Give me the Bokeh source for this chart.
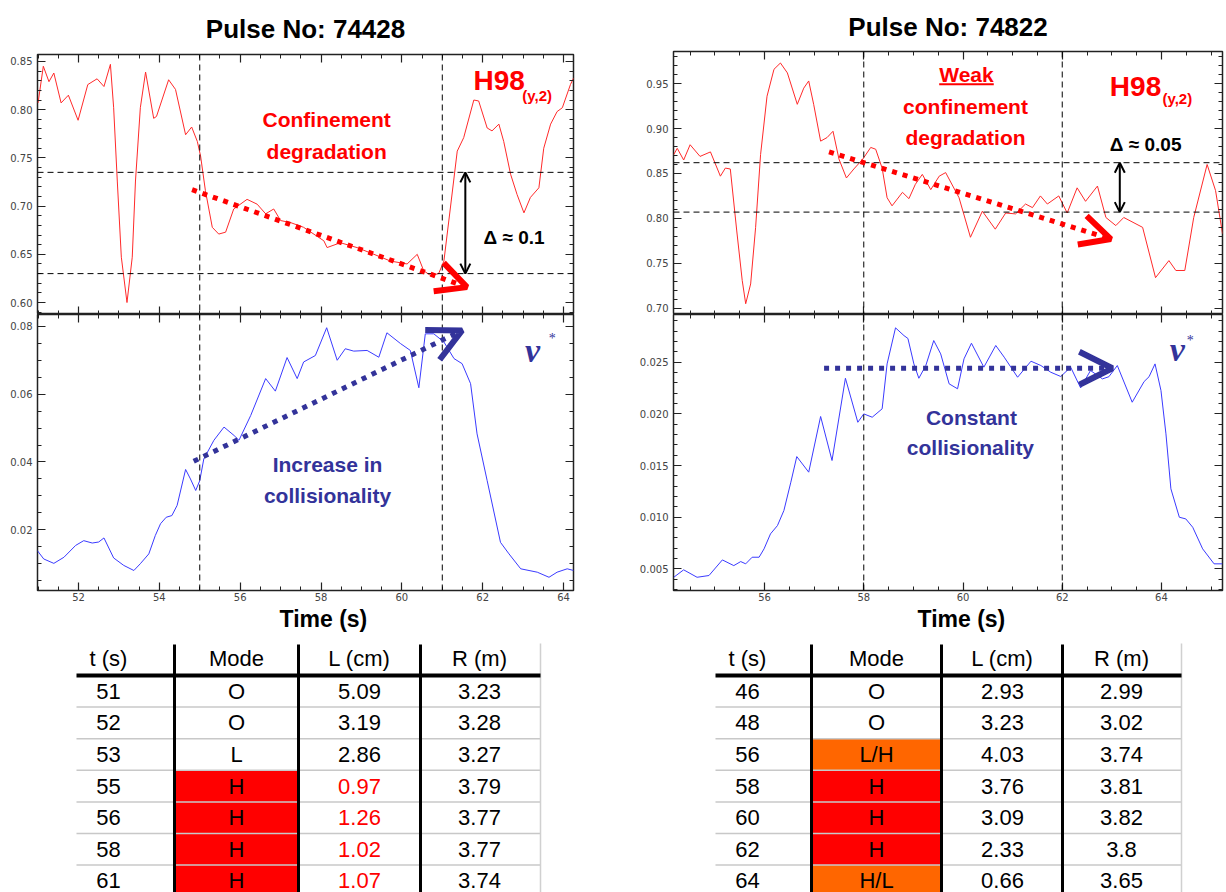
from bokeh.plotting import figure
from bokeh.models import (Range1d, LinearAxis, SingleIntervalTicker, PrintfTickFormatter,
                          Span, Arrow, OpenHead, Label, Title)
from bokeh.layouts import row, column
from bokeh.core.properties import value
from bokeh.embed import file_html
from bokeh.resources import INLINE

# ------------------------------------------------------------------ data
left_title = "Pulse No: 74428"
right_title = "Pulse No: 74822"
x_label = "Time (s)"

l_h98_t = [51.00, 51.13, 51.27, 51.39, 51.57, 51.75, 51.99, 52.23, 52.46, 52.63, 52.79, 52.87,
           52.96, 53.06, 53.20, 53.33, 53.41, 53.53, 53.66, 53.86, 53.93, 54.23, 54.40, 54.65,
           54.80, 54.94, 55.02, 55.14, 55.31, 55.47, 55.64, 55.84, 56.17, 56.42, 56.63, 56.83,
           57.00, 57.24, 57.57, 58.07, 58.15, 58.48, 58.89, 59.31, 59.72, 60.13, 60.38, 60.54,
           60.71, 60.91, 61.04, 61.20, 61.37, 61.53, 61.78, 61.90, 62.11, 62.23, 62.40, 62.52,
           62.69, 62.85, 63.02, 63.18, 63.39, 63.51, 63.68, 63.84, 63.97, 64.17, 64.25]
l_h98 = [0.807, 0.845, 0.829, 0.838, 0.807, 0.815, 0.789, 0.826, 0.832, 0.824, 0.847, 0.802,
         0.726, 0.647, 0.600, 0.647, 0.726, 0.802, 0.839, 0.791, 0.793, 0.831, 0.821, 0.774,
         0.782, 0.767, 0.752, 0.716, 0.678, 0.671, 0.673, 0.697, 0.707, 0.702, 0.692, 0.697,
         0.685, 0.683, 0.678, 0.664, 0.657, 0.662, 0.657, 0.650, 0.643, 0.640, 0.650, 0.633,
         0.628, 0.630, 0.643, 0.698, 0.757, 0.771, 0.810, 0.809, 0.781, 0.778, 0.785, 0.767,
         0.733, 0.712, 0.693, 0.709, 0.719, 0.760, 0.785, 0.798, 0.802, 0.826, 0.833]

l_nu_t = [50.98, 51.14, 51.39, 51.64, 51.93, 52.13, 52.34, 52.50, 52.63, 52.87, 53.12, 53.37,
          53.53, 53.74, 53.90, 54.03, 54.17, 54.31, 54.44, 54.65, 54.77, 54.90, 55.00, 55.10,
          55.35, 55.60, 55.85, 55.97, 56.26, 56.63, 56.87, 57.16, 57.41, 57.57, 57.86, 58.14,
          58.40, 58.60, 58.81, 59.14, 59.43, 59.63, 59.97, 60.21, 60.42, 60.58, 60.79, 61.04,
          61.29, 61.49, 61.70, 61.86, 62.11, 62.44, 62.65, 62.94, 63.35, 63.64, 63.84, 64.09,
          64.25]
l_nu = [0.0139, 0.0114, 0.0101, 0.0119, 0.0154, 0.0168, 0.0161, 0.0164, 0.0176, 0.0117, 0.0095,
        0.0080, 0.0100, 0.0129, 0.0183, 0.0218, 0.0237, 0.0242, 0.0272, 0.0378, 0.0350, 0.0316,
        0.0345, 0.0409, 0.0464, 0.0503, 0.0478, 0.0464, 0.0537, 0.0646, 0.0609, 0.0708, 0.0646,
        0.0695, 0.0714, 0.0796, 0.0700, 0.0734, 0.0727, 0.0729, 0.0709, 0.0781, 0.0749, 0.0729,
        0.0619, 0.0778, 0.0778, 0.0754, 0.0705, 0.0690, 0.0631, 0.0483, 0.0345, 0.0163, 0.0129,
        0.0085, 0.0075, 0.0060, 0.0075, 0.0085, 0.0080]

r_h98_t = [54.17, 54.24, 54.37, 54.50, 54.70, 54.91, 55.11, 55.21, 55.31, 55.44, 55.55, 55.62,
           55.72, 55.82, 55.92, 56.05, 56.19, 56.32, 56.46, 56.66, 56.79, 56.89, 56.99, 57.13,
           57.26, 57.38, 57.50, 57.65, 57.80, 57.98, 58.14, 58.24, 58.37, 58.47, 58.57, 58.78,
           58.91, 59.04, 59.18, 59.35, 59.52, 59.65, 59.92, 60.15, 60.39, 60.65, 60.86, 61.06,
           61.26, 61.40, 61.56, 61.70, 61.93, 62.10, 62.30, 62.47, 62.71, 62.88, 63.08, 63.24,
           63.62, 63.88, 64.15, 64.29, 64.47, 64.65, 64.92, 65.09, 65.23]
r_h98 = [0.871, 0.878, 0.865, 0.882, 0.869, 0.874, 0.847, 0.856, 0.855, 0.786, 0.731, 0.705,
         0.727, 0.790, 0.871, 0.936, 0.966, 0.973, 0.962, 0.927, 0.945, 0.953, 0.927, 0.886,
         0.890, 0.897, 0.866, 0.845, 0.855, 0.866, 0.879, 0.877, 0.856, 0.823, 0.814, 0.829,
         0.822, 0.838, 0.849, 0.832, 0.847, 0.851, 0.823, 0.779, 0.808, 0.788, 0.806, 0.805,
         0.816, 0.812, 0.825, 0.816, 0.825, 0.806, 0.834, 0.819, 0.836, 0.801, 0.792, 0.801,
         0.790, 0.734, 0.753, 0.742, 0.742, 0.801, 0.860, 0.831, 0.783]

r_nu_t = [54.17, 54.37, 54.64, 54.88, 55.15, 55.38, 55.52, 55.62, 55.75, 55.89, 55.99, 56.12,
          56.26, 56.39, 56.53, 56.65, 56.89, 57.13, 57.36, 57.63, 57.88, 58.00, 58.17, 58.37,
          58.47, 58.64, 58.81, 58.89, 59.01, 59.11, 59.25, 59.41, 59.55, 59.72, 59.89, 60.02,
          60.17, 60.42, 60.66, 60.83, 61.10, 61.37, 61.57, 61.77, 61.97, 62.17, 62.37, 62.57,
          62.81, 62.94, 63.11, 63.41, 63.65, 63.75, 63.87, 63.99, 64.09, 64.19, 64.36, 64.49,
          64.63, 64.83, 65.06, 65.23]
r_nu = [0.00419, 0.00491, 0.00419, 0.00436, 0.00587, 0.00532, 0.00571, 0.00549, 0.00613, 0.00613,
        0.00694, 0.00839, 0.00919, 0.01065, 0.01339, 0.01587, 0.01436, 0.01975, 0.01549, 0.02345,
        0.01919, 0.02000, 0.01968, 0.02049, 0.02484, 0.02833, 0.02758, 0.02730, 0.02484, 0.02345,
        0.02468, 0.02710, 0.02581, 0.02291, 0.02243, 0.02533, 0.02684, 0.02452, 0.02662, 0.02549,
        0.02355, 0.02510, 0.02468, 0.02403, 0.02362, 0.02452, 0.02252, 0.02420, 0.02339, 0.02360,
        0.02468, 0.02113, 0.02313, 0.02360, 0.02484, 0.02226, 0.01807, 0.01275, 0.01000, 0.00984,
        0.00903, 0.00694, 0.00549, 0.00549]

# marked times and H98 reference levels
l_vlines = [55, 61]
l_hlines = [0.735, 0.63]
r_vlines = [58, 62]
r_hlines = [0.862, 0.807]

table_header = ["t (s)", "Mode", "L (cm)", "R (m)"]
lt_t = ["51", "52", "53", "55", "56", "58", "61"]
lt_mode = ["O", "O", "L", "H", "H", "H", "H"]
lt_L = ["5.09", "3.19", "2.86", "0.97", "1.26", "1.02", "1.07"]
lt_R = ["3.23", "3.28", "3.27", "3.79", "3.77", "3.77", "3.74"]

rt_t = ["46", "48", "56", "58", "60", "62", "64"]
rt_mode = ["O", "O", "L/H", "H", "H", "H", "H/L"]
rt_L = ["2.93", "3.23", "4.03", "3.76", "3.09", "2.33", "0.66"]
rt_R = ["2.99", "3.02", "3.74", "3.81", "3.82", "3.8", "3.65"]

# ------------------------------------------------------------------ styles
RED_LINE = "#FF2A2A"
BLUE_LINE = "#3A3AFF"
RED_TXT = "#FF0000"
NAVY = "#33339A"
ORANGE = "#FF6600"
FONT = "Liberation Sans"
MODE_FILL = {"H": "#FF0000", "L/H": ORANGE, "H/L": ORANGE}

TOP_H = 314      # page y 0 -> 314
BOT_H = 321      # page y 314 -> 635
TAB_H = 257      # page y 635 -> 892
LW = 600
RW = 626
L_BORDERS = (37, 27)
R_BORDERS = (73, 4)


def panel(w, h, xr, yr, borders, bt, bb):
    p = figure(width=w, height=h, x_range=xr, y_range=yr, output_backend="svg",
               toolbar_location=None, x_axis_location=None, y_axis_location=None,
               min_border_left=borders[0], min_border_right=borders[1], min_border_top=bt,
               min_border_bottom=bb, background_fill_color="white",
               border_fill_color="white")
    p.grid.grid_line_color = None
    p.outline_line_color = "#222222"
    p.outline_line_width = 1.5
    return p


def axis(ticker, fixed, labels, fmt="%.2f"):
    a = LinearAxis(ticker=ticker, major_tick_in=8, major_tick_out=0,
                   minor_tick_in=4, minor_tick_out=0, axis_line_color=None,
                   major_tick_line_color="#222222", minor_tick_line_color="#222222",
                   major_tick_line_width=1.2, minor_tick_line_width=1,
                   major_label_text_font="DejaVu Sans", major_label_text_font_size="10px",
                   major_label_text_color="#444444" if labels else None,
                   major_label_standoff=5,
                   formatter=PrintfTickFormatter(format=fmt))
    if fixed is not None:
        a.fixed_location = fixed
    return a


def set_title(p, text, standoff):
    p.title.text = text
    p.title.align = "center"
    p.title.text_font = FONT
    p.title.text_font_size = "26px"
    p.title.text_font_style = "bold"
    p.title.text_color = "black"
    p.title.standoff = standoff


def decorate(p, xr, yr, xint, xminor, yint, yminor, yfmt, xlabels, axis_label=None,
             label_offset=0):
    p.add_layout(axis(SingleIntervalTicker(interval=yint, num_minor_ticks=yminor), None,
                      True, yfmt), "left")
    p.add_layout(axis(SingleIntervalTicker(interval=yint, num_minor_ticks=yminor), xr.end,
                      False, yfmt), "right")
    p.add_layout(axis(SingleIntervalTicker(interval=xint, num_minor_ticks=xminor), yr.end,
                      False, "%d"), "above")
    b = axis(SingleIntervalTicker(interval=xint, num_minor_ticks=xminor),
             None if xlabels else yr.start, xlabels, "%d")
    b.major_label_standoff = 2
    p.add_layout(b, "below")
    if axis_label:
        p.add_layout(Title(text=axis_label, align="left", offset=label_offset, standoff=0,
                           text_font=FONT, text_font_size="23px", text_font_style="bold",
                           text_color="black"), "below")


def vlines(p, locs):
    for v in locs:
        p.add_layout(Span(location=v, dimension="height", line_color="black",
                          line_width=1, line_dash="6 4"))


def hlines(p, locs):
    for v in locs:
        p.add_layout(Span(location=v, dimension="width", line_color="black",
                          line_width=1, line_dash="6 4"))


def txt(p, x, y, s, color, size="21px", align="center", style="bold", font=FONT):
    p.add_layout(Label(x=x, y=y, text=s, text_color=color, text_font=font,
                       text_font_size=size, text_font_style=style, text_align=align,
                       text_baseline="middle"))


def dotted_arrow(p, x0, y0, x1, y1, color, size):
    p.add_layout(Arrow(end=OpenHead(line_color=color, line_width=6, size=size),
                       x_start=x0, y_start=y0, x_end=x1, y_end=y1,
                       line_color=color, line_width=5, line_dash="5 6"))


def double_arrow(p, x, y0, y1):
    p.add_layout(Arrow(start=OpenHead(line_color="black", line_width=2, size=10),
                       end=OpenHead(line_color="black", line_width=2, size=10),
                       x_start=x, y_start=y0, x_end=x, y_end=y1,
                       line_color="black", line_width=2))


# ------------------------------------------------------------------ left plots
lx = Range1d(50.986, 64.246)
lt_y = Range1d(0.5876, 0.8572)
lb_y = Range1d(0.0021, 0.0835)

LT = panel(LW, TOP_H, lx, lt_y, L_BORDERS, 53, 0)
set_title(LT, left_title, 22)
decorate(LT, lx, lt_y, 2, 4, 0.05, 5, "%.2f", False)
vlines(LT, l_vlines)
hlines(LT, l_hlines)
LT.line(l_h98_t, l_h98, line_color=RED_LINE, line_width=1)
dotted_arrow(LT, 54.81, 0.717, 61.61, 0.616, RED_TXT, 30)
double_arrow(LT, 61.57, l_hlines[0], l_hlines[1])
txt(LT, 58.14, 0.790, "Confinement", RED_TXT)
txt(LT, 58.14, 0.757, "degradation", RED_TXT)
txt(LT, 61.77, 0.830, "H98", RED_TXT, "28px", "left")
txt(LT, 62.98, 0.815, "(y,2)", RED_TXT, "15px", "left")
txt(LT, 62.02, 0.6675, "\u0394 \u2248 0.1", "black", "19px", "left")

LB = panel(LW, BOT_H, lx, lb_y, L_BORDERS, 0, 45)
decorate(LB, lx, lb_y, 2, 4, 0.02, 4, "%.2f", True, x_label, 242)
vlines(LB, l_vlines)
LB.line(l_nu_t, l_nu, line_color=BLUE_LINE, line_width=1)
dotted_arrow(LB, 54.85, 0.0402, 61.49, 0.0788, NAVY, 33)
txt(LB, 58.16, 0.0393, "Increase in", NAVY)
txt(LB, 58.16, 0.0301, "collisionality", NAVY)
txt(LB, 63.23, 0.0729, "\u03bd", NAVY, "34px", "center", "bold italic", "Liberation Serif")
txt(LB, 63.72, 0.0765, "*", NAVY, "14px", "center", "normal", "Liberation Serif")

# ------------------------------------------------------------------ right plots
rx = Range1d(54.165, 65.23)
rt_y = Range1d(0.693, 0.9858)
rb_y = Range1d(0.00291, 0.02962)

RT = panel(RW, TOP_H, rx, rt_y, R_BORDERS, 50, 0)
set_title(RT, right_title, 19)
decorate(RT, rx, rt_y, 2, 4, 0.05, 5, "%.2f", False)
vlines(RT, r_vlines)
hlines(RT, r_hlines)
RT.line(r_h98_t, r_h98, line_color=RED_LINE, line_width=1)
dotted_arrow(RT, 57.30, 0.874, 62.98, 0.777, RED_TXT, 30)
double_arrow(RT, 63.16, r_hlines[0], r_hlines[1])
txt(RT, 60.07, 0.9603, "Weak", RED_TXT)
RT.segment(x0=[59.52], y0=[0.9493], x1=[60.62], y1=[0.9493], line_color=RED_TXT, line_width=2)
txt(RT, 60.05, 0.9248, "confinement", RED_TXT)
txt(RT, 60.05, 0.8904, "degradation", RED_TXT)
txt(RT, 62.96, 0.947, "H98", RED_TXT, "28px", "left")
txt(RT, 64.02, 0.9330, "(y,2)", RED_TXT, "15px", "left")
txt(RT, 62.96, 0.8827, "\u0394 \u2248 0.05", "black", "19px", "left")

RB = panel(RW, BOT_H, rx, rb_y, R_BORDERS, 0, 45)
decorate(RB, rx, rb_y, 2, 4, 0.005, 5, "%.3f", True, x_label, 244)
vlines(RB, r_vlines)
RB.line(r_nu_t, r_nu, line_color=BLUE_LINE, line_width=1)
dotted_arrow(RB, 57.20, 0.02442, 63.01, 0.02442, NAVY, 33)
txt(RB, 60.17, 0.01968, "Constant", NAVY)
txt(RB, 60.15, 0.01675, "collisionality", NAVY)
txt(RB, 64.32, 0.02623, "\u03bd", NAVY, "34px", "center", "bold italic", "Liberation Serif")
txt(RB, 64.58, 0.02710, "*", NAVY, "14px", "center", "normal", "Liberation Serif")


# ------------------------------------------------------------------ tables
def table(w, x0, borders, edges, text_x, t, mode, L, R, red_L):
    # frame spans page x from x0+left border to x0+w-right border; data x == page x
    fx0 = x0 + borders[0]
    fx1 = x0 + w - borders[1]
    p = figure(width=w, height=TAB_H, x_range=Range1d(fx0, fx1), y_range=Range1d(892, 635),
               output_backend="svg", toolbar_location=None, x_axis_location=None,
               y_axis_location=None, min_border_left=borders[0], min_border_right=borders[1],
               min_border_top=0, min_border_bottom=0)
    p.grid.grid_line_color = None
    p.outline_line_color = None
    head_y = 658
    head_line = 675
    rh = 31.6
    n = len(t)
    tops = [head_line + rh * i for i in range(n)]
    mids = [tp + rh / 2 for tp in tops]
    # coloured mode cells
    fill_idx = [i for i in range(n) if mode[i] in MODE_FILL]
    p.quad(left=[edges[1]] * len(fill_idx), right=[edges[2]] * len(fill_idx),
           top=[tops[i] for i in fill_idx], bottom=[tops[i] + rh for i in fill_idx],
           fill_color=[MODE_FILL[mode[i]] for i in fill_idx], line_color=None)
    # grey separators
    seps = [head_line + rh * k for k in range(1, n)]
    p.segment(x0=[edges[0]] * len(seps), y0=seps, x1=[edges[4] + 2] * len(seps), y1=seps,
              line_color="#C8C8C8", line_width=1.5)
    p.segment(x0=[edges[4] + 2], y0=[643], x1=[edges[4] + 2], y1=[900],
              line_color="#D0D0D0", line_width=1.5)
    # thick header line and column rules
    p.segment(x0=[edges[0]], y0=[head_line], x1=[edges[4] + 2], y1=[head_line],
              line_color="black", line_width=4)
    p.segment(x0=edges[1:4], y0=[644] * 3, x1=edges[1:4], y1=[900] * 3,
              line_color="black", line_width=3)
    fs = "22px"
    p.text(x=text_x, y=[head_y] * 4, text=table_header, text_font=value(FONT),
           text_font_size=fs, text_align="center", text_baseline="middle", text_color="black")
    cols = [t, mode, L, R]
    for c, vals in enumerate(cols):
        colors = ["black"] * n
        if c == 2 and red_L:
            colors = [RED_TXT if mode[i] == "H" else "black" for i in range(n)]
        p.text(x=[text_x[c]] * n, y=mids, text=vals, text_font=value(FONT),
               text_font_size=fs, text_align="center", text_baseline="middle",
               text_color=colors)
    return p


LTab = table(LW, 0, L_BORDERS, [76, 174, 298, 420, 538], [108, 236, 359, 479],
             lt_t, lt_mode, lt_L, lt_R, True)
RTab = table(RW, 600, R_BORDERS, [715, 811, 941, 1062, 1179], [747, 876, 1002, 1121],
             rt_t, rt_mode, rt_L, rt_R, False)

layout = row(column(LT, LB, LTab, spacing=0), column(RT, RB, RTab, spacing=0), spacing=0)
open("out.html", "w").write(file_html(layout, INLINE))
